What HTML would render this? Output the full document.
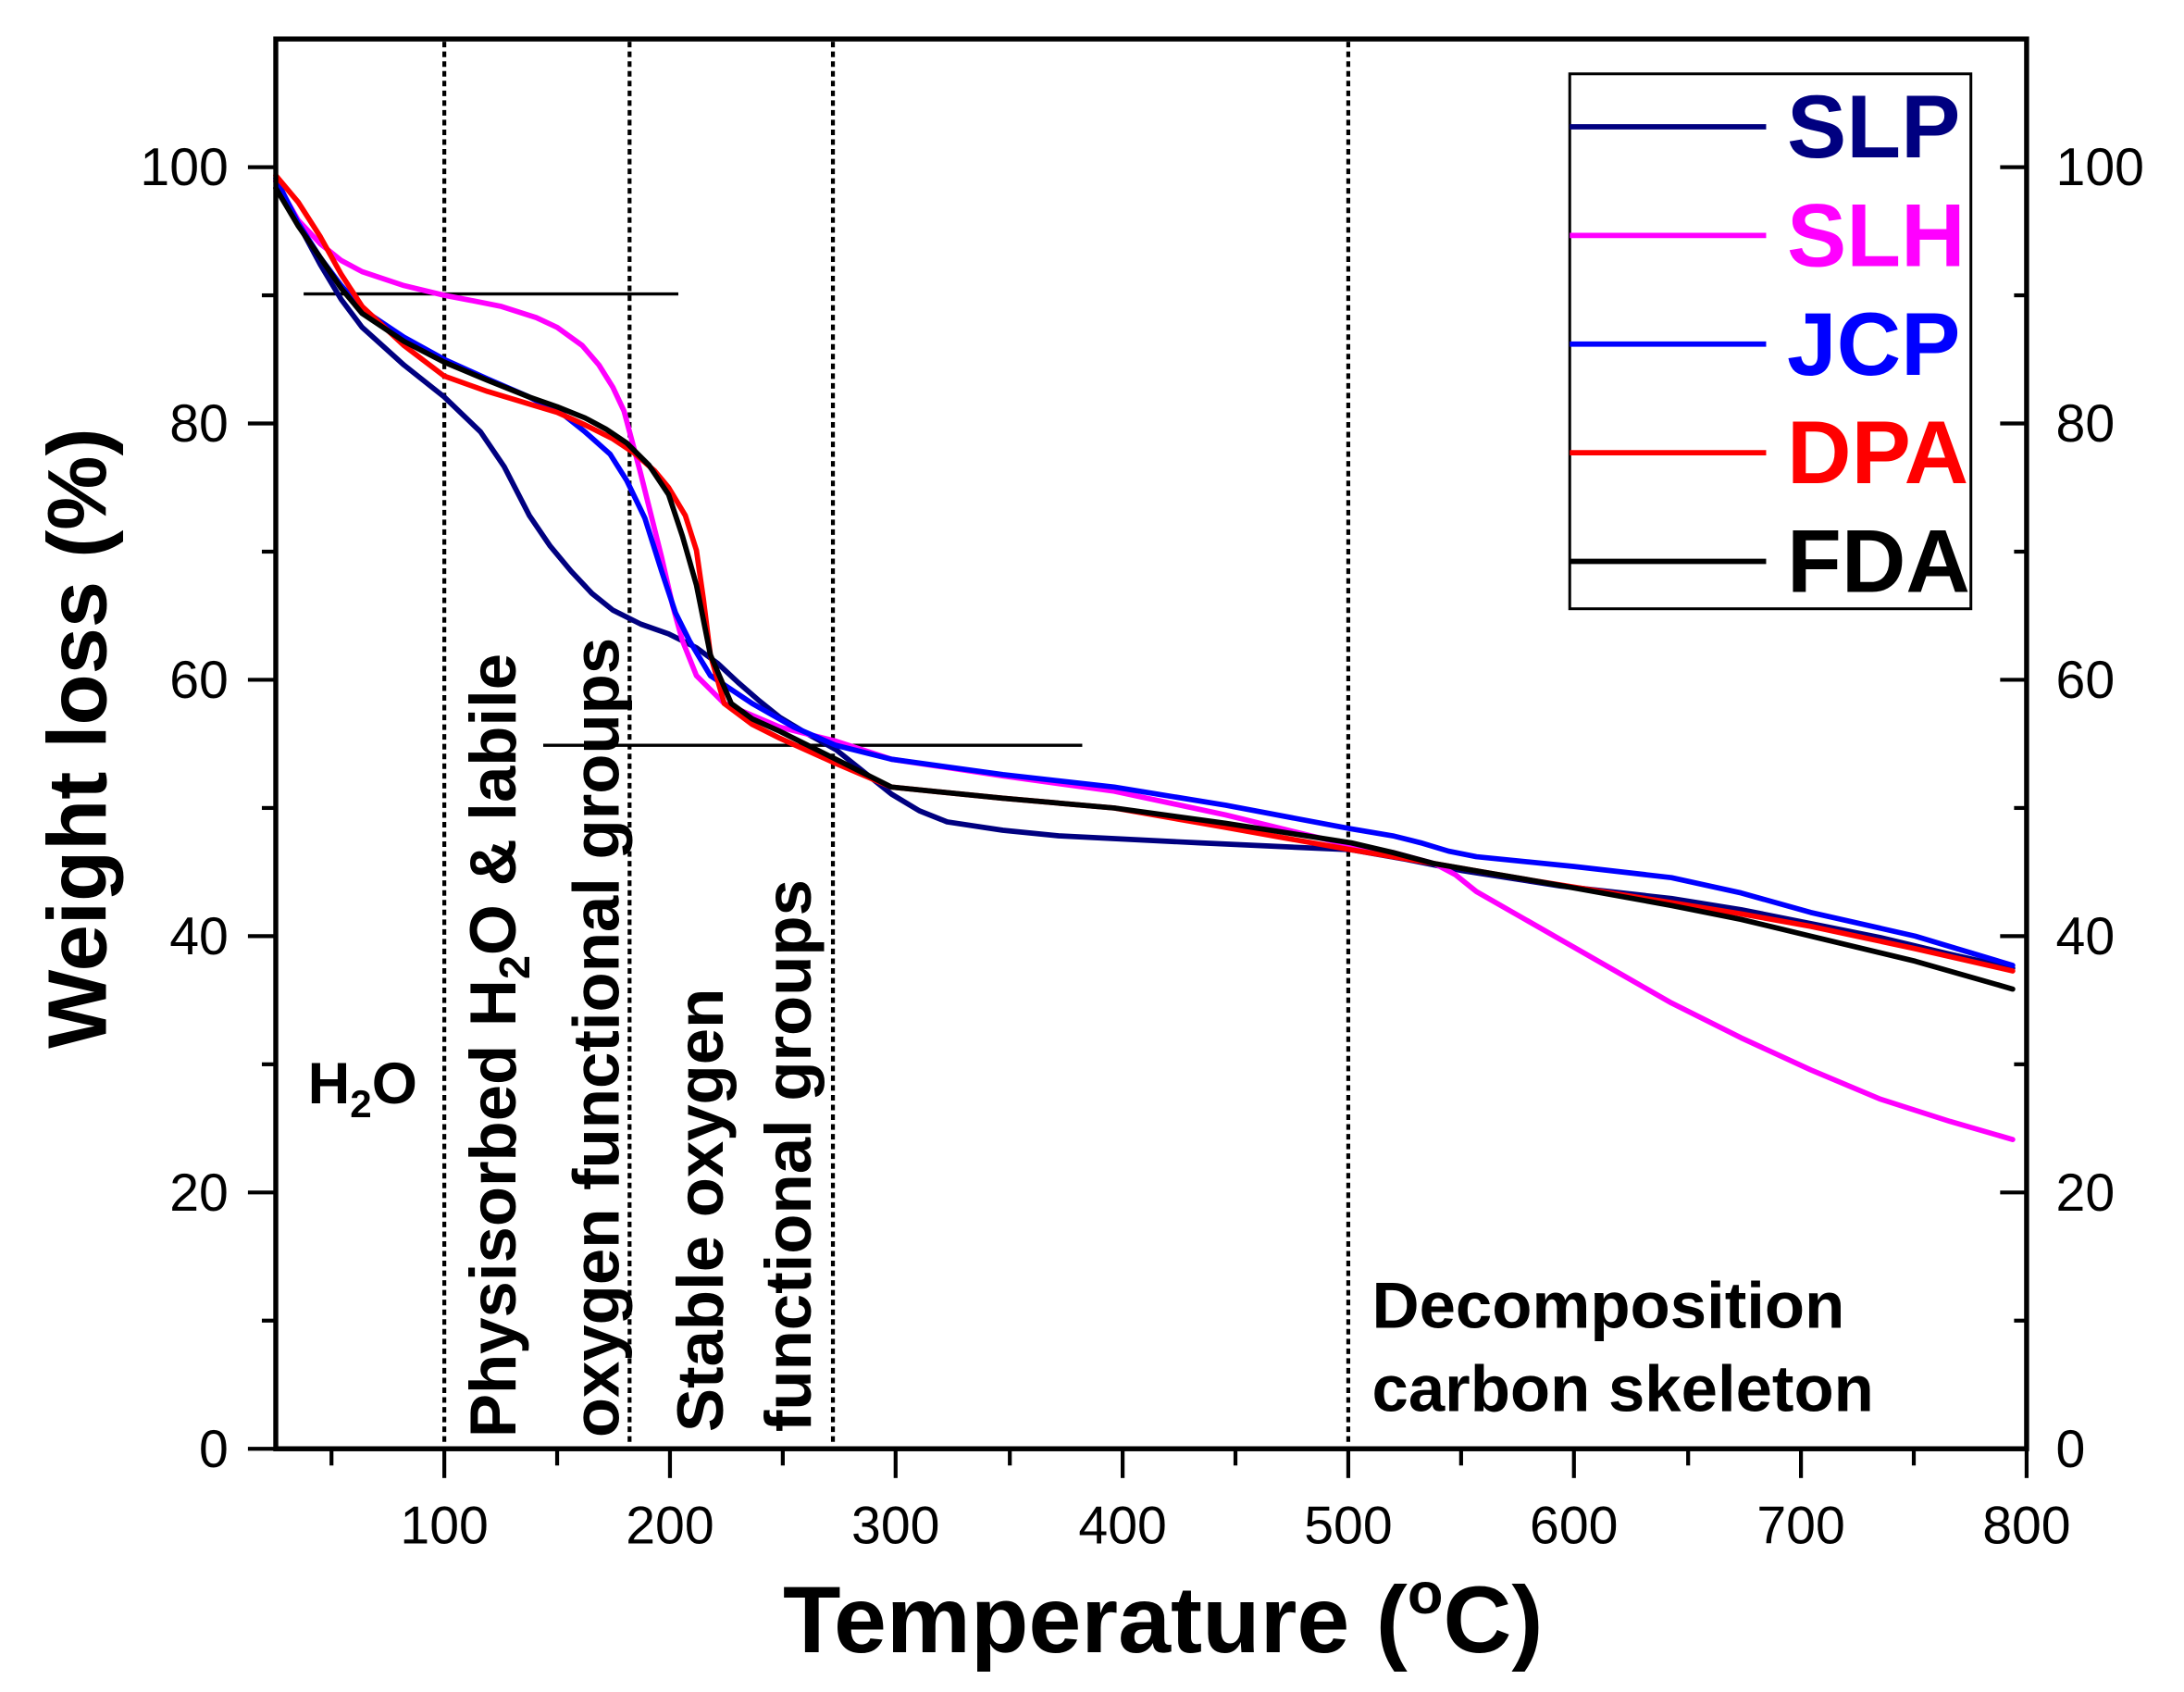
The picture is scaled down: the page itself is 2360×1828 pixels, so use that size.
<!DOCTYPE html>
<html><head><meta charset="utf-8"><style>
html,body{margin:0;padding:0;background:#fff;}
svg{display:block;}
text{font-family:"Liberation Sans",Arial,sans-serif;fill:#000;}
</style></head><body>
<svg width="2360" height="1828" viewBox="0 0 1568 1214.6" preserveAspectRatio="none" xmlns="http://www.w3.org/2000/svg">
<rect width="1568" height="1215" fill="#fff"/>
<g stroke="#000" stroke-width="2.8" stroke-dasharray="4,3">
<line x1="319" y1="30" x2="319" y2="1038"/>
<line x1="452" y1="30" x2="452" y2="1038"/>
<line x1="598" y1="30" x2="598" y2="1038"/>
<line x1="968" y1="30" x2="968" y2="1038"/>
</g>
<g stroke="#000" stroke-width="2.2">
<line x1="218" y1="211" x2="487" y2="211"/>
<line x1="390" y1="535" x2="777" y2="535"/>
</g>
<g fill="none" stroke-width="3.8" stroke-linejoin="round" stroke-linecap="round">
<polyline stroke="#000080" points="198,130 215,162 230,190 245,215 260,235 290,262 319,285 345,310 362,335 380,370 395,392 410,410 425,426 440,438 460,448 480,455 500,465 515,476 530,490 545,503 560,515 580,527 600,538 620,554 640,570 660,582 680,590 720,596 760,600 860,605 970,610 1010,617 1050,625 1120,636 1200,645 1250,653 1300,663 1350,673 1400,685 1445,695"/>
<polyline stroke="#ff00ff" points="198,130 214,158 230,175 245,187 260,195 290,205 319,212 340,216 360,220 385,228 400,235 418,248 430,262 440,278 448,295 460,340 475,400 483,435 490,460 500,485 520,505 560,522 600,532 640,545 720,557 800,568 880,585 970,607 1000,612 1030,620 1045,628 1060,640 1095,660 1130,680 1165,700 1200,720 1250,745 1300,768 1350,789 1400,805 1445,818"/>
<polyline stroke="#0000ff" points="198,128 214,160 230,185 245,205 260,222 290,242 319,258 350,272 380,285 405,298 420,310 438,326 450,345 463,372 475,410 485,440 495,460 510,485 540,505 570,522 600,535 640,545 720,556 800,565 880,578 970,595 1000,600 1020,605 1040,611 1060,615 1130,622 1200,630 1250,641 1300,655 1375,672 1445,693"/>
<polyline stroke="#ff0000" points="198,126 214,145 230,170 245,197 260,220 290,248 319,270 350,281 380,290 400,296 420,305 440,315 455,325 470,338 480,350 492,370 500,395 505,430 510,470 520,505 540,520 560,530 600,548 640,565 720,573 800,580 880,594 970,610 1000,615 1030,620 1065,626 1100,632 1150,640 1200,648 1250,656 1300,665 1375,681 1445,697"/>
<polyline stroke="#000000" points="198,135 214,162 230,185 245,207 260,225 290,245 319,260 350,273 380,285 400,292 420,300 435,308 450,318 466,334 480,355 490,385 500,420 505,445 510,470 525,505 540,516 560,525 600,545 640,565 720,573 800,580 880,591 970,605 1000,612 1030,620 1065,626 1100,632 1150,641 1200,650 1250,660 1300,672 1375,690 1445,710"/>
</g>
<rect x="198" y="28" width="1257" height="1012" fill="none" stroke="#000" stroke-width="3.6"/>
<g stroke="#000" stroke-width="2.8">
<line x1="319" y1="1040" x2="319" y2="1061"/><line x1="481" y1="1040" x2="481" y2="1061"/><line x1="643" y1="1040" x2="643" y2="1061"/><line x1="806" y1="1040" x2="806" y2="1061"/><line x1="968" y1="1040" x2="968" y2="1061"/><line x1="1130" y1="1040" x2="1130" y2="1061"/><line x1="1293" y1="1040" x2="1293" y2="1061"/><line x1="1455" y1="1040" x2="1455" y2="1061"/>
<line x1="238" y1="1040" x2="238" y2="1052"/><line x1="400" y1="1040" x2="400" y2="1052"/><line x1="562" y1="1040" x2="562" y2="1052"/><line x1="725" y1="1040" x2="725" y2="1052"/><line x1="887" y1="1040" x2="887" y2="1052"/><line x1="1049" y1="1040" x2="1049" y2="1052"/><line x1="1212" y1="1040" x2="1212" y2="1052"/><line x1="1374" y1="1040" x2="1374" y2="1052"/>
<line x1="178" y1="1040" x2="198" y2="1040"/><line x1="178" y1="856" x2="198" y2="856"/><line x1="178" y1="672" x2="198" y2="672"/><line x1="178" y1="488" x2="198" y2="488"/><line x1="178" y1="304" x2="198" y2="304"/><line x1="178" y1="120" x2="198" y2="120"/>
<line x1="188" y1="948" x2="198" y2="948"/><line x1="188" y1="764" x2="198" y2="764"/><line x1="188" y1="580" x2="198" y2="580"/><line x1="188" y1="396" x2="198" y2="396"/><line x1="188" y1="212" x2="198" y2="212"/>
<line x1="1436" y1="856" x2="1455" y2="856"/><line x1="1436" y1="672" x2="1455" y2="672"/><line x1="1436" y1="488" x2="1455" y2="488"/><line x1="1436" y1="304" x2="1455" y2="304"/><line x1="1436" y1="120" x2="1455" y2="120"/>
<line x1="1446" y1="948" x2="1455" y2="948"/><line x1="1446" y1="764" x2="1455" y2="764"/><line x1="1446" y1="580" x2="1455" y2="580"/><line x1="1446" y1="396" x2="1455" y2="396"/><line x1="1446" y1="212" x2="1455" y2="212"/>
</g>
<g font-size="38" text-anchor="middle">
<text x="319" y="1108">100</text><text x="481" y="1108">200</text><text x="643" y="1108">300</text><text x="806" y="1108">400</text><text x="968" y="1108">500</text><text x="1130" y="1108">600</text><text x="1293" y="1108">700</text><text x="1455" y="1108">800</text>
</g>
<g font-size="38" text-anchor="end">
<text x="164" y="1053">0</text><text x="164" y="869">20</text><text x="164" y="685">40</text><text x="164" y="501">60</text><text x="164" y="317">80</text><text x="164" y="133">100</text>
</g>
<g font-size="38" text-anchor="start">
<text x="1476" y="1053">0</text><text x="1476" y="869">20</text><text x="1476" y="685">40</text><text x="1476" y="501">60</text><text x="1476" y="317">80</text><text x="1476" y="133">100</text>
</g>
<text x="835" y="1186" font-size="68" font-weight="bold" text-anchor="middle">Temperature (<tspan font-size="42" dy="-28">o</tspan><tspan dy="28">C)</tspan></text>
<text transform="translate(76,530) rotate(-90)" font-size="60" font-weight="bold" text-anchor="middle">Weight loss (%)</text>
<text x="221" y="792" font-size="42" font-weight="bold">H<tspan font-size="28" dy="10">2</tspan><tspan dy="-10">O</tspan></text>
<g font-size="47" font-weight="bold">
<text transform="translate(370,1032) rotate(-90)">Physisorbed H<tspan font-size="31" dy="10">2</tspan><tspan dy="-10">O &amp; labile</tspan></text>
<text transform="translate(444,1032) rotate(-90)">oxygen functional groups</text>
<text transform="translate(519,1028) rotate(-90)">Stable oxygen</text>
<text transform="translate(582,1028) rotate(-90)">functional groups</text>
</g>
<g font-size="47" font-weight="bold">
<text x="985" y="953">Decomposition</text>
<text x="985" y="1013">carbon skeleton</text>
</g>
<rect x="1127" y="53" width="288" height="384" fill="#fff" stroke="#000" stroke-width="2"/>
<g stroke-width="3.8">
<line x1="1127" y1="91" x2="1268" y2="91" stroke="#000080"/>
<line x1="1127" y1="169" x2="1268" y2="169" stroke="#ff00ff"/>
<line x1="1127" y1="247" x2="1268" y2="247" stroke="#0000ff"/>
<line x1="1127" y1="325" x2="1268" y2="325" stroke="#ff0000"/>
<line x1="1127" y1="403" x2="1268" y2="403" stroke="#000000"/>
</g>
<g font-size="64" font-weight="bold">
<text x="1283" y="113" style="fill:#000080">SLP</text>
<text x="1283" y="191" style="fill:#ff00ff">SLH</text>
<text x="1283" y="269" style="fill:#0000ff">JCP</text>
<text x="1283" y="347" style="fill:#ff0000">DPA</text>
<text x="1283" y="425" style="fill:#000">FDA</text>
</g>
</svg>
</body></html>
